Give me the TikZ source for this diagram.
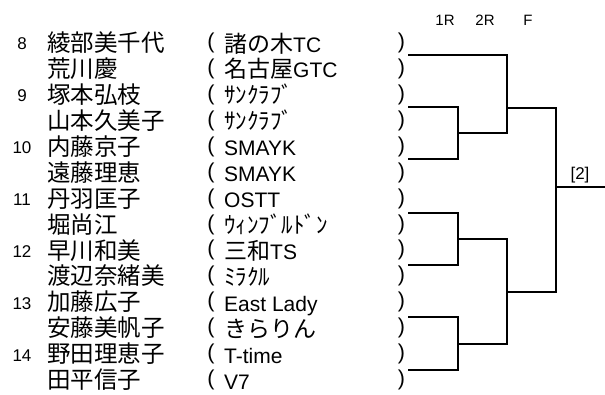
\documentclass[tikz,border=0pt]{standalone}
\usepackage{fontspec}
\setmainfont{Liberation Sans}
\newfontfamily\cjk{Noto Sans CJK JP}
\newcommand\jpt[1]{{\cjk\fontsize{23}{23}\selectfont #1}}
\tikzset{
  num/.style={font=\fontsize{17}{17}\selectfont, anchor=base, inner sep=0pt},
  pname/.style={font=\cjk\fontsize{23.5}{23.5}\selectfont, anchor=base west, inner sep=0pt},
  team/.style={font=\fontsize{21}{21}\selectfont, anchor=base west, inner sep=0pt},
  paren/.style={font=\fontsize{21.5}{21.5}\selectfont, anchor=center, inner sep=0pt},
  hdr/.style={font=\fontsize{15}{15}\selectfont, anchor=base, inner sep=0pt},
  res/.style={font=\fontsize{17}{17}\selectfont, anchor=base, inner sep=0pt},
  br/.style={line width=2pt, line cap=rect, line join=miter}
}
\begin{document}
\begin{tikzpicture}[x=1pt,y=-1pt]
\useasboundingbox (0,0) rectangle (605,394);
% headers
\node[hdr] (h1) at (445,25) {1R};
\node[hdr] (h2) at (485,25) {2R};
\node[hdr] (h3) at (528,25) {F};
% players
\foreach \i/\nm/\tm in {
 0/綾部美千代/{\jpt{諸の木}TC},
 1/荒川慶/{\jpt{名古屋}GTC},
 2/塚本弘枝/{\jpt{ｻﾝｸﾗﾌﾞ}},
 3/山本久美子/{\jpt{ｻﾝｸﾗﾌﾞ}},
 4/内藤京子/{SMAYK},
 5/遠藤理恵/{SMAYK},
 6/丹羽匡子/{OSTT},
 7/堀尚江/{\jpt{ｳｨﾝﾌﾞﾙﾄﾞﾝ}},
 8/早川和美/{\jpt{三和}TS},
 9/渡辺奈緒美/{\jpt{ﾐﾗｸﾙ}},
 10/加藤広子/{East Lady},
 11/安藤美帆子/{\jpt{きらりん}},
 12/野田理恵子/{T-time},
 13/田平信子/{V7}}{
  \pgfmathsetmacro\yc{42.8+25.95*\i}
  \node[pname] (n\i) at (47,\yc+8.6) {\nm};
  \node[paren] (o\i) at (211,\yc) {(};
  \node[team] (t\i) at (224,\yc+9.2) {\tm};
  \node[paren] (c\i) at (401.5,\yc) {)};
}
\foreach \k/\i in {8/0,9/2,10/4,11/6,12/8,13/10,14/12}{
  \pgfmathsetmacro\yc{42.8+25.95*\i}
  \node[num] (s\k) at (22,\yc+6.8) {\k};
}
% bracket coordinates
\coordinate (p1) at (409,55);
\coordinate (p2) at (409,107);
\coordinate (p3) at (409,158.5);
\coordinate (p4) at (409,212.5);
\coordinate (p5) at (409,265);
\coordinate (p6) at (409,317);
\coordinate (p7) at (409,370);
\coordinate (a23) at (458,133);
\coordinate (a45) at (458,239);
\coordinate (a67) at (458,344);
\coordinate (b1) at (507,108);
\coordinate (b2) at (507,292);
\coordinate (f) at (556,187);
\coordinate (w) at (605,187);
% round 1
\draw[br] (p2) -| (a23) |- (p3);
\draw[br] (p4) -| (a45) |- (p5);
\draw[br] (p6) -| (a67) |- (p7);
% round 2
\draw[br] (p1) -| (b1) |- (a23);
\draw[br] (a45) -| (b2) |- (a67);
% final
\draw[br] (b1) -| (f) |- (b2);
\draw[br] (f) -- (w);
\node[res] (r) at (580,179) {[2]};
\end{tikzpicture}
\end{document}
